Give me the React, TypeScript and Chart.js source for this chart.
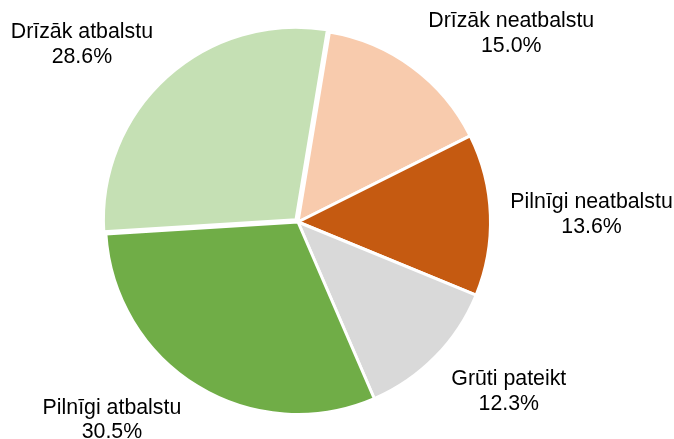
import React, { useEffect, useRef } from "react";
import { Chart, registerables } from "chart.js";

Chart.register(...registerables);

const categories = [
  "Drīzāk neatbalstu",
  "Pilnīgi neatbalstu",
  "Grūti pateikt",
  "Pilnīgi atbalstu",
  "Drīzāk atbalstu",
];
const values = [15.0, 13.6, 12.3, 30.5, 28.6];
const valueLabels = ["15.0%", "13.6%", "12.3%", "30.5%", "28.6%"];
const colors = ["#F8CBAD", "#C55A11", "#D9D9D9", "#70AD47", "#C5E0B4"];
const sliceOffsets = [0, 0, 0, 0, 12];
// small per-label nudges (px) after the radial placement
const labelNudges: [number, number][] = [
  [0, 0],
  [4, 0],
  [0, 3],
  [0, -4],
  [0, -4],
];

const FONT = "21.33px 'Liberation Sans', Arial, sans-serif";
const LINE_H = 24.5;

const outsideLabels = {
  id: "outsideLabels",
  afterDatasetsDraw(chart: any) {
    const ctx = chart.ctx;
    const meta = chart.getDatasetMeta(0);
    ctx.save();
    ctx.font = FONT;
    ctx.fillStyle = "#000000";
    ctx.textAlign = "center";
    ctx.textBaseline = "alphabetic";
    meta.data.forEach((arc: any, i: number) => {
      const { x, y, startAngle, endAngle, outerRadius } = arc.getProps(
        ["x", "y", "startAngle", "endAngle", "outerRadius"],
        true
      );
      const mid = (startAngle + endAngle) / 2;
      const ux = Math.cos(mid);
      const uy = Math.sin(mid);
      const ax = x + outerRadius * ux;
      const ay = y + outerRadius * uy;
      const l1 = categories[i];
      const l2 = valueLabels[i];
      const w = Math.max(ctx.measureText(l1).width, ctx.measureText(l2).width);
      const cx = ax + Math.sign(ux) * (w / 2 + 16) + labelNudges[i][0];
      const cy = ay + uy * 43 + labelNudges[i][1];
      const base1 = cy - 5;
      ctx.fillText(l1, cx, base1);
      ctx.fillText(l2, cx, base1 + LINE_H);
    });
    ctx.restore();
  },
};

export default function App() {
  const ref = useRef<HTMLCanvasElement | null>(null);
  useEffect(() => {
    if (!ref.current) return;
    const chart = new Chart(ref.current, {
      type: "pie",
      data: {
        labels: categories,
        datasets: [
          {
            data: values,
            backgroundColor: colors,
            borderColor: "#FFFFFF",
            borderWidth: 3,
            offset: sliceOffsets,
          },
        ],
      },
      options: {
        animation: false,
        responsive: false,
        rotation: 9.4,
        layout: { padding: { top: 22, bottom: 17, left: 0, right: 78 } },
        plugins: {
          legend: { display: false },
          tooltip: { enabled: false },
          title: { display: false },
        },
      },
      plugins: [outsideLabels],
    });
    return () => chart.destroy();
  }, []);
  return (
    <div style={{ position: "fixed", left: 0, top: 0, width: 674, height: 439, background: "#fff" }}>
      <canvas ref={ref} width={674} height={439} style={{ width: 674, height: 439, display: "block" }} />
    </div>
  );
}
